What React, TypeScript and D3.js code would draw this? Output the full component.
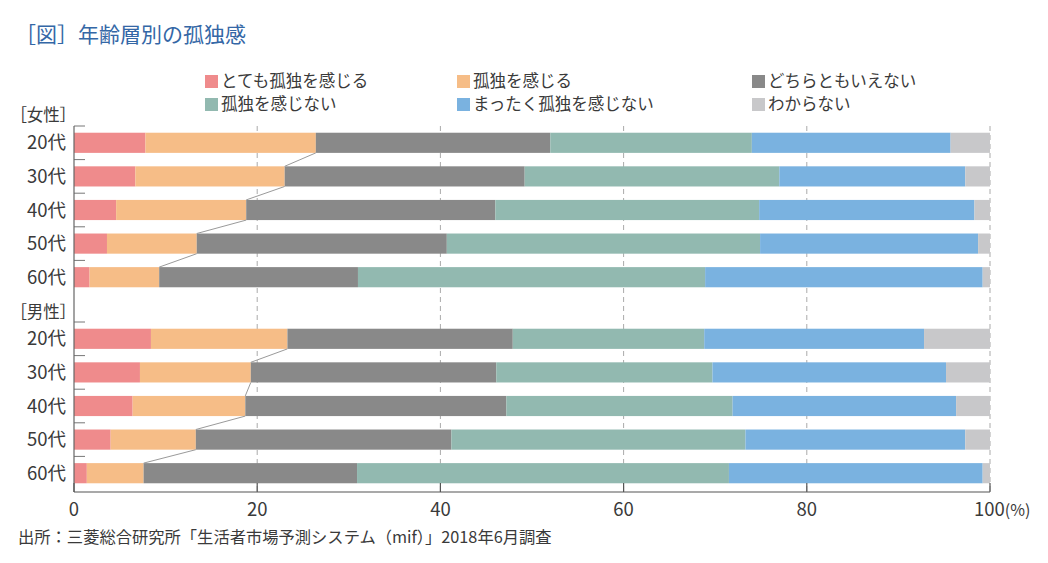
import React from 'react';
import * as d3 from 'd3';

const categories = ['20代', '30代', '40代', '50代', '60代'];
const seriesNames = ['とても孤独を感じる', '孤独を感じる', 'どちらともいえない', '孤独を感じない', 'まったく孤独を感じない', 'わからない'];
const seriesColors = ['#ef8b8c', '#f6bd87', '#898989', '#92b9b0', '#7ab2e0', '#c8c8ca'];
const xTicks = [0, 20, 40, 60, 80, 100];

// 女性
const femaleVeryLonely = [7.8, 6.7, 4.6, 3.6, 1.7];
const femaleLonely = [18.6, 16.3, 14.2, 9.8, 7.6];
const femaleNeither = [25.6, 26.2, 27.2, 27.3, 21.7];
const femaleNotLonely = [22.0, 27.8, 28.8, 34.2, 37.9];
const femaleNotAtAll = [21.7, 20.3, 23.5, 23.8, 30.3];
const femaleUnknown = [4.3, 2.7, 1.7, 1.3, 0.8];

// 男性
const maleVeryLonely = [8.4, 7.2, 6.4, 4.0, 1.4];
const maleLonely = [14.9, 12.1, 12.3, 9.3, 6.2];
const maleNeither = [24.6, 26.8, 28.5, 27.9, 23.3];
const maleNotLonely = [20.9, 23.6, 24.7, 32.1, 40.6];
const maleNotAtAll = [24.0, 25.5, 24.4, 24.0, 27.7];
const maleUnknown = [7.2, 4.8, 3.7, 2.7, 0.8];

const W = 1048;
const H = 563;
const FONT = '"Noto Sans CJK JP", "Noto Sans", sans-serif';
const TEXT = '#3a3a3a';

const buildRows = (cols: number[][]) =>
  categories.map((c, i) => {
    const row: any = { cat: c };
    seriesNames.forEach((s, k) => (row[s] = cols[k][i]));
    return row;
  });

const femaleRows = buildRows([femaleVeryLonely, femaleLonely, femaleNeither, femaleNotLonely, femaleNotAtAll, femaleUnknown]);
const maleRows = buildRows([maleVeryLonely, maleLonely, maleNeither, maleNotLonely, maleNotAtAll, maleUnknown]);

const x = d3.scaleLinear().domain([0, 100]).range([74, 990]);
const axisTop = 126;
const axisBottom = 492;

const groups = [
  { label: '［女性］', rows: femaleRows, range: [126, 294] as [number, number], labelY: 121 },
  { label: '［男性］', rows: maleRows, range: [322, 490] as [number, number], labelY: 318 },
];

const stack = d3.stack<any>().keys(seriesNames);

const Group: React.FC<{ g: typeof groups[0] }> = ({ g }) => {
  const y = d3.scaleBand<string>().domain(categories).range(g.range).paddingInner(0.4).paddingOuter(0.2);
  const layers = stack(g.rows);
  const step = y.step();
  const bw = y.bandwidth();
  const orange = layers[1];
  return (
    <g>
      <text x={68} y={g.labelY} textAnchor="end" fontSize={16.5} fill={TEXT} style={{ fontFeatureSettings: '"palt"' }}>{g.label}</text>
      {categories.map((c) => (
        <g key={c}>
          <line x1={74} x2={85} y1={y(c)! - step * 0.2} y2={y(c)! - step * 0.2} stroke="#777" strokeWidth={1} />
          <text x={66} y={y(c)! + bw / 2} dy="0.36em" textAnchor="end" fontSize={18.5} fill={TEXT}>{c}</text>
        </g>
      ))}
      {layers.map((layer, k) => (
        <g key={layer.key} fill={seriesColors[k]}>
          {layer.map((d, i) => (
            <rect key={i} x={x(d[0])} y={y(categories[i])} width={x(d[1]) - x(d[0])} height={bw} />
          ))}
        </g>
      ))}
      {orange.slice(0, -1).map((d, i) => (
        <line
          key={i}
          x1={x(d[1])}
          y1={y(categories[i])! + bw}
          x2={x(orange[i + 1][1])}
          y2={y(categories[i + 1])}
          stroke="#9a9a9a"
          strokeWidth={1}
        />
      ))}
    </g>
  );
};

export default function App() {
  const legendX = [205, 457, 752];
  const legendY = [75, 98];
  return (
    <svg
      width={W}
      height={H}
      style={{ position: 'absolute', left: 0, top: 0, background: '#fff' }}
      fontFamily={FONT}
    >
      <text x={15} y={42} fontSize={21} fill="#3467a6">［図］年齢層別の孤独感</text>

      {seriesNames.map((s, k) => {
        const lx = legendX[k % 3];
        const ly = legendY[Math.floor(k / 3)];
        return (
          <g key={s}>
            <rect x={lx} y={ly} width={13} height={13} fill={seriesColors[k]} />
            <text x={lx + 16} y={ly + 6.5} dy="0.36em" fontSize={16.5} fill={TEXT}>{s}</text>
          </g>
        );
      })}

      {/* grid */}
      {xTicks.slice(1).map((t) => (
        <line key={t} x1={x(t)} x2={x(t)} y1={axisTop} y2={axisBottom} stroke="#aaa" strokeWidth={1} strokeDasharray="5,4" />
      ))}

      {groups.map((g) => <Group key={g.label} g={g} />)}

      {/* axes */}
      <line x1={x(0)} x2={x(0)} y1={axisTop} y2={axisBottom} stroke="#666" strokeWidth={1.2} />
      <line x1={x(0)} x2={x(100)} y1={axisBottom} y2={axisBottom} stroke="#555" strokeWidth={1.2} />
      {xTicks.map((t) => (
        <g key={t}>
          <line x1={x(t)} x2={x(t)} y1={axisBottom - 9} y2={axisBottom} stroke="#555" strokeWidth={1.2} />
          <text x={x(t)} y={509} dy="0.36em" textAnchor={t === 100 ? 'start' : 'middle'} dx={t === 100 ? -16 : 0} fontSize={18.5} fill={TEXT}>
            {t}
            {t === 100 ? <tspan fontSize={16}>(%)</tspan> : null}
          </text>
        </g>
      ))}

      <text x={18} y={537} dy="0.36em" fontSize={16.3} fill={TEXT}>出所：三菱総合研究所「生活者市場予測システム（mif）」2018年6月調査</text>
    </svg>
  );
}
